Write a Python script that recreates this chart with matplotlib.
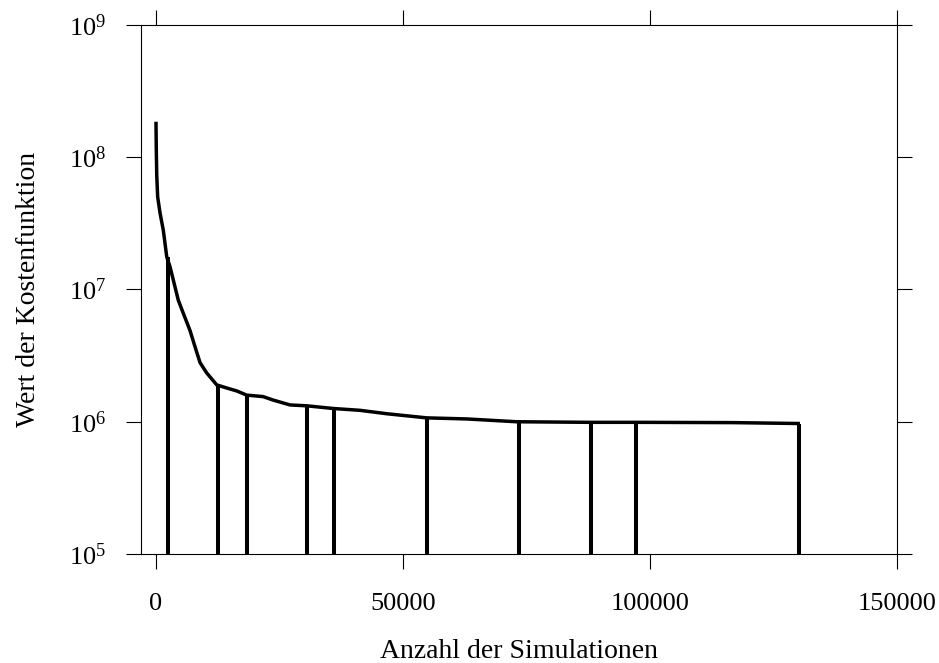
import matplotlib
matplotlib.use('Agg')
import matplotlib.pyplot as plt

plt.rcParams['font.family'] = 'Liberation Serif'
plt.rcParams['mathtext.fontset'] = 'custom'
plt.rcParams['mathtext.rm'] = 'Liberation Serif'
plt.rcParams['mathtext.it'] = 'Liberation Serif:italic'

# Kostenfunktion ueber Anzahl der Simulationen
sim = [0, 60, 150, 340, 810, 1480, 2170, 2830, 3500, 4510, 5530, 6880, 7890, 8910,
       10260, 12290, 14310, 16340, 18360, 21660, 23680, 27130, 30500, 35830,
       41300, 46700, 54800, 62900, 73000, 87850, 97300, 116800, 130000]
kosten = [1.8e8, 1.13e8, 7.3e7, 5.0e7, 3.8e7, 2.8e7, 1.77e7, 1.49e7, 1.18e7, 8.3e6,
          6.6e6, 4.9e6, 3.7e6, 2.8e6, 2.34e6, 1.90e6, 1.80e6, 1.71e6, 1.59e6,
          1.55e6, 1.46e6, 1.34e6, 1.32e6, 1.26e6, 1.22e6, 1.15e6, 1.07e6,
          1.05e6, 1.00e6, 9.9e5, 9.9e5, 9.85e5, 9.7e5]

# senkrechte Linien (Neustarts)
stufen_x = [2370, 12490, 18360, 30500, 36030, 54800, 73420, 88060, 97170, 130160]
stufen_y = [1.77e7, 1.90e6, 1.59e6, 1.32e6, 1.26e6, 1.07e6, 1.0e6, 9.9e5, 9.9e5, 9.7e5]

xticks = [0, 50000, 100000, 150000]
xticklabels = ['0', '50000', '100000', '150000']
yticks = [1e5, 1e6, 1e7, 1e8, 1e9]
yticklabels = ['$10^{5}$', '$10^{6}$', '$10^{7}$', '$10^{8}$', '$10^{9}$']

fig = plt.figure(figsize=(9.39, 6.63), dpi=100)
ax = fig.add_axes([0.1502, 0.1644, 0.8056, 0.7979])

ax.plot(sim, kosten, color='black', lw=2.5, solid_joinstyle='round')
ax.vlines(stufen_x, 1e5, stufen_y, color='black', lw=2.9)

ax.set_yscale('log')
ax.set_xlim(-3030, 150100)
ax.set_ylim(1e5, 1e9)
ax.set_xticks(xticks)
ax.set_xticklabels(xticklabels)
ax.set_yticks(yticks)
ax.set_yticklabels(yticklabels)
ax.minorticks_off()

ax.tick_params(direction='out', length=11, width=0.8, labelsize=19,
               top=True, right=True, labeltop=False, labelright=False)
ax.tick_params(axis='x', pad=17)
ax.tick_params(axis='y', pad=14)
for s in ax.spines.values():
    s.set_linewidth(0.8)

ax.set_xlabel('Anzahl der Simulationen', fontsize=20, labelpad=17)
ax.set_ylabel('Wert der Kostenfunktion', fontsize=20, labelpad=20)

fig.savefig('out.png', dpi=100)
